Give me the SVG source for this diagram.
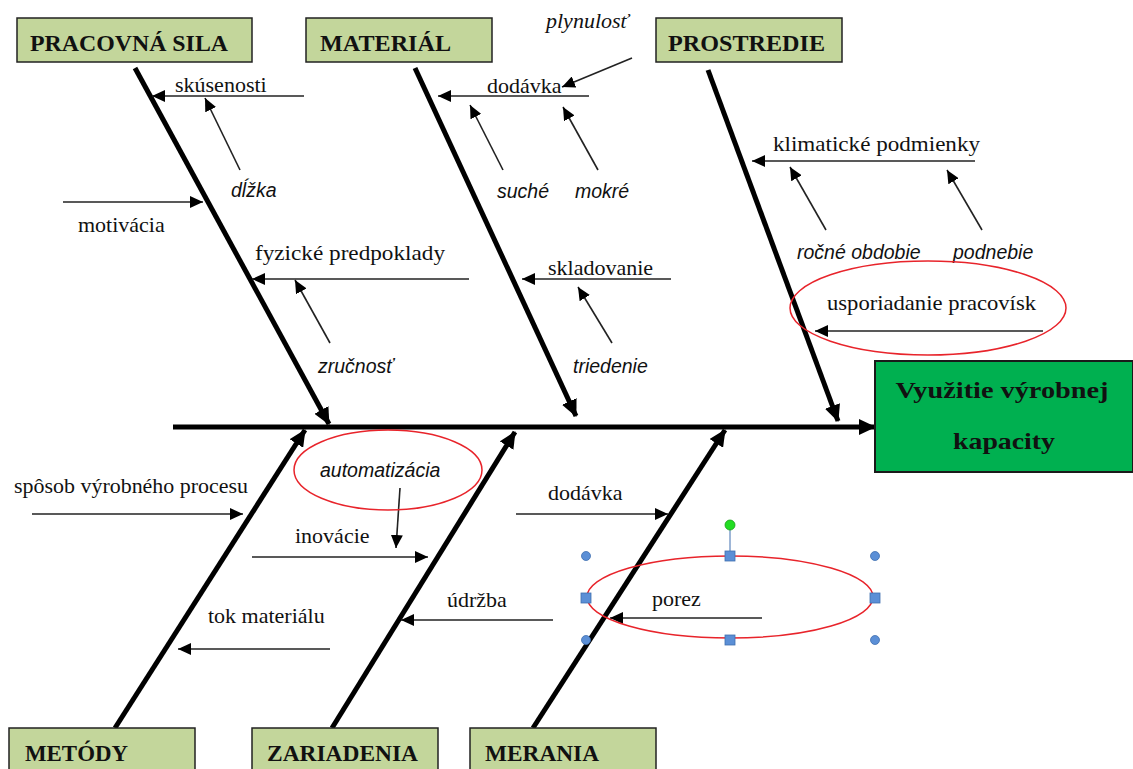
<svg xmlns="http://www.w3.org/2000/svg" width="1133" height="769" viewBox="0 0 1133 769">
  <style>
    .cat { fill: #c3d69b; stroke: #222; stroke-width: 1.5; }
    .catlbl { font-family: "Liberation Serif", serif; font-weight: bold; font-size: 24px; fill: #111; }
    .lbl { font-family: "Liberation Serif", serif; font-size: 22px; fill: #111; }
    .it { font-family: "Liberation Sans", sans-serif; font-style: italic; font-size: 19.5px; fill: #111; }
    .bone { stroke: #000; stroke-width: 5; fill: none; marker-end: url(#bigHead); }
    .sub { stroke: #222; stroke-width: 1.6; fill: none; marker-end: url(#smallHead); }
    .ring { fill: none; stroke: #e8242b; stroke-width: 1.5; }
    .handle { fill: #5b8fd6; stroke: #3f6fb0; stroke-width: 0.8; }
  </style>
  <defs>
    <marker id="bigHead" markerUnits="userSpaceOnUse" markerWidth="18" markerHeight="16" refX="16" refY="8" orient="auto">
      <path d="M0,0 L17,8 L0,16 z" fill="#000"/>
    </marker>
    <marker id="smallHead" markerUnits="userSpaceOnUse" markerWidth="14" markerHeight="12" refX="13" refY="6" orient="auto">
      <path d="M0,0 L13,6 L0,12 z" fill="#000"/>
    </marker>
  </defs>

  <rect width="1133" height="769" fill="#fff"/>

  <!-- spine, main bones and sub-cause arrows -->
  <g id="connectors">
    <line class="bone" x1="173" y1="427" x2="875" y2="427"/>
    <line class="bone" x1="135" y1="68" x2="329" y2="424"/>
    <line class="bone" x1="415" y1="68" x2="576" y2="416"/>
    <line class="bone" x1="708" y1="70" x2="838" y2="421"/>
    <line class="bone" x1="115" y1="728" x2="305" y2="430"/>
    <line class="bone" x1="332" y1="728" x2="515" y2="432"/>
    <line class="bone" x1="533" y1="728" x2="725" y2="430"/>

    <line class="sub" x1="304" y1="96" x2="152" y2="96"/>
    <line class="sub" x1="240" y1="170" x2="205" y2="98"/>
    <line class="sub" x1="63" y1="202" x2="203" y2="202"/>
    <line class="sub" x1="469" y1="279" x2="252" y2="279"/>
    <line class="sub" x1="330" y1="343" x2="295" y2="280"/>
    <line class="sub" x1="589" y1="96" x2="438" y2="96"/>
    <line class="sub" x1="632" y1="58" x2="562" y2="87"/>
    <line class="sub" x1="503" y1="170" x2="470" y2="105"/>
    <line class="sub" x1="598" y1="170" x2="563" y2="107"/>
    <line class="sub" x1="671" y1="279" x2="522" y2="279"/>
    <line class="sub" x1="612" y1="343" x2="578" y2="287"/>
    <line class="sub" x1="975" y1="161" x2="752" y2="161"/>
    <line class="sub" x1="826" y1="230" x2="790" y2="167"/>
    <line class="sub" x1="982" y1="230" x2="947" y2="170"/>
    <line class="sub" x1="1043" y1="331" x2="815" y2="331"/>
    <line class="sub" x1="32" y1="514" x2="243" y2="514"/>
    <line class="sub" x1="400" y1="488" x2="396" y2="548"/>
    <line class="sub" x1="252" y1="557" x2="428" y2="557"/>
    <line class="sub" x1="330" y1="649" x2="178" y2="649"/>
    <line class="sub" x1="516" y1="514" x2="668" y2="514"/>
    <line class="sub" x1="553" y1="620" x2="401" y2="620"/>
    <line class="sub" x1="762" y1="618" x2="610" y2="618"/>
  </g>

  <!-- category boxes -->
  <g id="pracovna-sila">
    <rect class="cat" x="17" y="18" width="235" height="44"/>
    <text class="catlbl" x="30" y="51" textLength="198" lengthAdjust="spacingAndGlyphs">PRACOVNÁ SILA</text>
  </g>
  <g id="material">
    <rect class="cat" x="306" y="18" width="186" height="44"/>
    <text class="catlbl" x="320" y="51" textLength="131" lengthAdjust="spacingAndGlyphs">MATERIÁL</text>
  </g>
  <g id="prostredie">
    <rect class="cat" x="656" y="18" width="186" height="44"/>
    <text class="catlbl" x="668" y="51" textLength="157" lengthAdjust="spacingAndGlyphs">PROSTREDIE</text>
  </g>
  <g id="metody">
    <rect class="cat" x="9" y="728" width="186" height="44"/>
    <text class="catlbl" x="25" y="761" textLength="103" lengthAdjust="spacingAndGlyphs">METÓDY</text>
  </g>
  <g id="zariadenia">
    <rect class="cat" x="252" y="728" width="186" height="44"/>
    <text class="catlbl" x="267" y="761" textLength="151" lengthAdjust="spacingAndGlyphs">ZARIADENIA</text>
  </g>
  <g id="merania">
    <rect class="cat" x="470" y="728" width="186" height="44"/>
    <text class="catlbl" x="485" y="761" textLength="114" lengthAdjust="spacingAndGlyphs">MERANIA</text>
  </g>

  <!-- effect -->
  <g id="effect">
    <rect x="875" y="361" width="258" height="111" fill="#00b050" stroke="#1a1a1a" stroke-width="2"/>
    <text class="catlbl" x="1002" y="398" text-anchor="middle" font-size="27" textLength="213" lengthAdjust="spacingAndGlyphs">Využitie výrobnej</text>
    <text class="catlbl" x="1004" y="449" text-anchor="middle" font-size="27" textLength="102" lengthAdjust="spacingAndGlyphs">kapacity</text>
  </g>

  <!-- cause labels -->
  <g id="labels">
    <text class="lbl" x="175" y="92">skúsenosti</text>
    <text class="it" x="231" y="197">dĺžka</text>
    <text class="lbl" x="78" y="232">motivácia</text>
    <text class="lbl" x="255" y="260" textLength="190" lengthAdjust="spacingAndGlyphs">fyzické predpoklady</text>
    <text class="it" x="318" y="373">zručnosť</text>
    <text class="lbl" x="487" y="93">dodávka</text>
    <text x="546" y="28" font-family="Liberation Serif, serif" font-style="italic" font-size="22" fill="#111">plynulosť</text>
    <text class="it" x="497" y="198">suché</text>
    <text class="it" x="575" y="198">mokré</text>
    <text class="lbl" x="548" y="275">skladovanie</text>
    <text class="it" x="573" y="373">triedenie</text>
    <text class="lbl" x="773" y="151" textLength="207" lengthAdjust="spacingAndGlyphs">klimatické podmienky</text>
    <text class="it" x="797" y="259">ročné obdobie</text>
    <text class="it" x="953" y="259">podnebie</text>
    <text class="lbl" x="827" y="310" textLength="209" lengthAdjust="spacingAndGlyphs">usporiadanie pracovísk</text>
    <text class="it" x="320" y="477">automatizácia</text>
    <text class="lbl" x="14" y="493" textLength="234" lengthAdjust="spacingAndGlyphs">spôsob výrobného procesu</text>
    <text class="lbl" x="295" y="543">inovácie</text>
    <text class="lbl" x="208" y="623">tok materiálu</text>
    <text class="lbl" x="548" y="500">dodávka</text>
    <text class="lbl" x="447" y="607">údržba</text>
    <text class="lbl" x="652" y="606">porez</text>
  </g>

  <!-- highlight rings -->
  <g id="rings">
    <ellipse class="ring" cx="928" cy="308" rx="138" ry="47"/>
    <ellipse class="ring" cx="388" cy="470" rx="94" ry="40"/>
    <ellipse class="ring" cx="730" cy="597" rx="143" ry="41"/>
  </g>

  <!-- shape selection handles -->
  <g id="selection">
    <line x1="730" y1="525" x2="730" y2="556" stroke="#3f6fb0" stroke-width="1"/>
    <circle cx="730" cy="525" r="5" fill="#22dd22" stroke="#18a018" stroke-width="0.8"/>
    <circle class="handle" cx="586" cy="556" r="4.5"/>
    <circle class="handle" cx="875" cy="556" r="4.5"/>
    <circle class="handle" cx="586" cy="640" r="4.5"/>
    <circle class="handle" cx="875" cy="640" r="4.5"/>
    <rect class="handle" x="725" y="551" width="10" height="10"/>
    <rect class="handle" x="725" y="635" width="10" height="10"/>
    <rect class="handle" x="581" y="593" width="10" height="10"/>
    <rect class="handle" x="870" y="593" width="10" height="10"/>
  </g>
</svg>
